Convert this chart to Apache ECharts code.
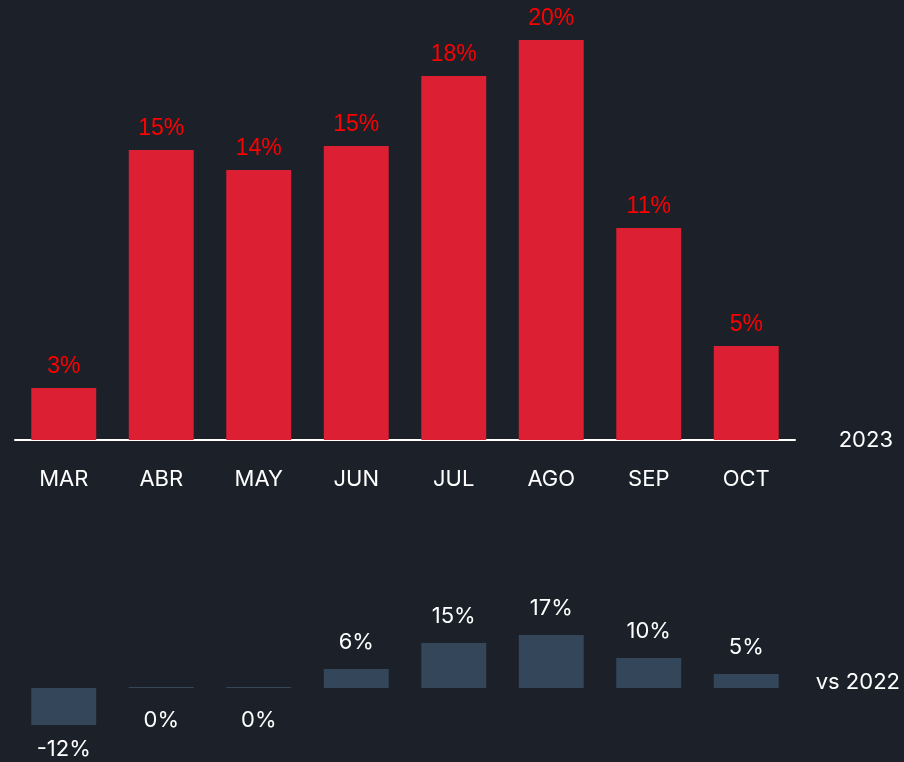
<!DOCTYPE html>
<html>
<head>
<meta charset="utf-8">
<style>
  html, body { margin: 0; padding: 0; background: #1b2029; }
  #main { width: 904px; height: 762px; }
</style>
</head>
<body>
<div id="main"></div>
<script src="https://cdn.jsdelivr.net/npm/echarts@6/dist/echarts.min.js"></script>
<script>
  var months = ['MAR', 'ABR', 'MAY', 'JUN', 'JUL', 'AGO', 'SEP', 'OCT'];
  var share2023 = [2.6, 14.5, 13.5, 14.7, 18.2, 20.0, 10.6, 4.7];
  var vs2022 = [-11.9, 0, 0, 6.1, 14.5, 17.1, 9.7, 4.5];

  var font = 'Inter, "Noto Sans", sans-serif';
  var myChart = echarts.init(document.getElementById('main'));

  var option = {
    backgroundColor: '#1b2029',
    animation: false,
    grid: [
      { left: 15, right: 109, top: 40, bottom: 322 },
      { left: 15, right: 109, top: 626, bottom: 12 }
    ],
    xAxis: [
      {
        type: 'category', gridIndex: 0, data: months,
        axisLine: { lineStyle: { color: '#ffffff', width: 2 } },
        axisTick: { show: false },
        axisLabel: { color: '#ffffff', fontSize: 22, fontFamily: font, margin: 28 }
      },
      {
        type: 'category', gridIndex: 1, data: months,
        axisLine: { show: false }, axisTick: { show: false }, axisLabel: { show: false }
      }
    ],
    yAxis: [
      { type: 'value', gridIndex: 0, min: 0, max: 20, show: false },
      { type: 'value', gridIndex: 1, min: -20, max: 20, show: false }
    ],
    series: [
      {
        type: 'bar', xAxisIndex: 0, yAxisIndex: 0,
        data: share2023,
        barWidth: '66.6%',
        itemStyle: { color: '#dc1f32' },
        label: {
          show: true, position: 'top', distance: 10,
          color: '#ff0000', fontSize: 23, fontFamily: '"Liberation Sans", Arial, sans-serif',
          formatter: function (p) { return Math.round(p.value) + '%'; }
        }
      },
      {
        type: 'bar', xAxisIndex: 1, yAxisIndex: 1,
        data: vs2022.map(function (v) {
          return {
            value: v,
            label: { position: v > 0 ? 'top' : 'bottom', distance: v > 0 ? 16 : (v < 0 ? 14 : 21) }
          };
        }),
        barWidth: '66.6%',
        barMinHeight: 1,
        itemStyle: { color: '#34475a' },
        label: {
          show: true,
          color: '#ffffff', fontSize: 22, fontFamily: font,
          formatter: function (p) { return Math.round(p.value) + '%'; }
        }
      }
    ],
    graphic: [
      { type: 'text', right: 11, top: 429, style: { text: '2023', fill: '#ffffff', font: '22px ' + font } },
      { type: 'text', right: 4, top: 671, style: { text: 'vs 2022', fill: '#ffffff', font: '22px ' + font } }
    ]
  };
  myChart.setOption(option);
</script>
</body>
</html>
